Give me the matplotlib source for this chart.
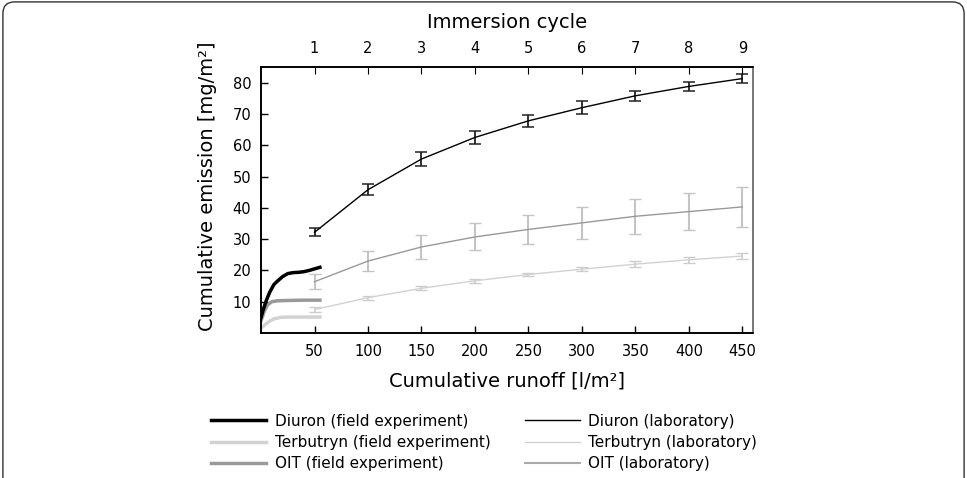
import matplotlib
matplotlib.use("Agg")
import matplotlib.pyplot as plt
from matplotlib.patches import FancyBboxPatch
from matplotlib.lines import Line2D

plt.rcParams['font.family'] = ['DejaVu Sans']

# Field experiment (continuous curves)
diuron_field_x = [0, 2, 5, 8, 12, 15, 20, 25, 30, 35, 40, 45, 50, 55]
diuron_field_y = [5, 7.5, 10.5, 13, 15.5, 16.5, 18, 19, 19.3, 19.4, 19.6, 20, 20.5, 21]
oit_field_x = [0, 3, 6, 10, 15, 25, 40, 55]
oit_field_y = [4, 7, 9, 10, 10.3, 10.4, 10.5, 10.5]
terb_field_x = [0, 4, 8, 12, 18, 25, 40, 55]
terb_field_y = [1.5, 2.8, 3.8, 4.5, 5, 5.1, 5.1, 5.1]

# Laboratory (immersion cycles)
lab_x = [50, 100, 150, 200, 250, 300, 350, 400, 450]
cycles = [1, 2, 3, 4, 5, 6, 7, 8, 9]
diuron_lab_y = [32.2, 45.8, 55.6, 62.5, 67.8, 72, 75.8, 78.8, 81.3]
diuron_lab_err = [1.3, 1.8, 2.2, 2.1, 2.0, 2.1, 1.5, 1.4, 1.5]
oit_lab_y = [16.4, 23, 27.5, 30.7, 33.1, 35.2, 37.3, 38.8, 40.3]
oit_lab_err = [2.4, 3.2, 3.8, 4.3, 4.7, 5.0, 5.6, 6.0, 6.3]
terb_lab_y = [7.5, 11.3, 14.3, 16.7, 18.7, 20.4, 22, 23.4, 24.6]
terb_lab_err = [0.8, 0.6, 0.6, 0.6, 0.6, 0.7, 0.9, 0.9, 1.0]

c_diuron = '#000000'
c_terb = '#d2d2d2'
c_oit = '#999999'

fig = plt.figure(figsize=(9.67, 4.78), dpi=100)
ax = fig.add_axes([0.27, 0.3033, 0.5087, 0.5565])

# lab curves with error bars
ax.errorbar(lab_x, terb_lab_y, yerr=terb_lab_err, color=c_terb, lw=1.0,
            ecolor='#cccccc', elinewidth=1.2, capsize=4, capthick=1.0)
ax.errorbar(lab_x, oit_lab_y, yerr=oit_lab_err, color=c_oit, lw=1.0,
            ecolor='#c4c4c4', elinewidth=1.5, capsize=4, capthick=1.0)
ax.errorbar(lab_x, diuron_lab_y, yerr=diuron_lab_err, color=c_diuron, lw=1.0,
            ecolor='#222222', elinewidth=1.3, capsize=4, capthick=1.1)

# field curves
ax.plot(terb_field_x, terb_field_y, color=c_terb, lw=2.5)
ax.plot(oit_field_x, oit_field_y, color=c_oit, lw=2.5)
ax.plot(diuron_field_x, diuron_field_y, color=c_diuron, lw=2.5)

ax.set_xlim(0, 460)
ax.set_ylim(0, 85)
ax.set_xticks([50, 100, 150, 200, 250, 300, 350, 400, 450])
ax.set_yticks([10, 20, 30, 40, 50, 60, 70, 80])
ax.tick_params(direction='in', length=5, labelsize=10.5, width=1)
ax.tick_params(axis='y', pad=7)
ax.tick_params(axis='x', pad=8)
for s in ax.spines.values():
    s.set_linewidth(1.2)
ax.spines['right'].set_color('#777777')

ax.set_xlabel('Cumulative runoff [l/m²]', fontsize=14, labelpad=9)
ax.set_ylabel('Cumulative emission [mg/m²]', fontsize=14)
ax.yaxis.set_label_coords(-0.09, 0.553)

ax2 = ax.twiny()
ax2.set_xlim(ax.get_xlim())
ax2.set_xticks(lab_x)
ax2.set_xticklabels([str(c) for c in cycles])
ax2.tick_params(direction='in', length=5, labelsize=10.5, pad=8)
ax2.set_xlabel('Immersion cycle', fontsize=14, labelpad=9)
for s in ax2.spines.values():
    s.set_linewidth(1.2)
ax2.spines['right'].set_color('#777777')

handles = [
    Line2D([], [], color=c_diuron, lw=2.5),
    Line2D([], [], color=c_terb, lw=2.5),
    Line2D([], [], color=c_oit, lw=2.5),
    Line2D([], [], color=c_diuron, lw=1.0),
    Line2D([], [], color=c_terb, lw=1.0),
    Line2D([], [], color='#aaaaaa', lw=1.5),
]
labels = ['Diuron (field experiment)', 'Terbutryn (field experiment)', 'OIT (field experiment)',
          'Diuron (laboratory)', 'Terbutryn (laboratory)', 'OIT (laboratory)']
fig.legend(handles, labels, ncol=2, loc='upper left', bbox_to_anchor=(0.212, 0.147),
           frameon=False, fontsize=11, handlelength=3.6, handletextpad=0.55,
           columnspacing=2.25, labelspacing=0.4, borderaxespad=0)

border = FancyBboxPatch((0.003, -0.1), 0.994, 1.096, boxstyle='round,pad=0,rounding_size=0.012',
                        transform=fig.transFigure, fill=False, edgecolor='#333333', lw=1.0,
                        mutation_aspect=2.0)
fig.patches.append(border)

fig.savefig('out.png', dpi=100)
